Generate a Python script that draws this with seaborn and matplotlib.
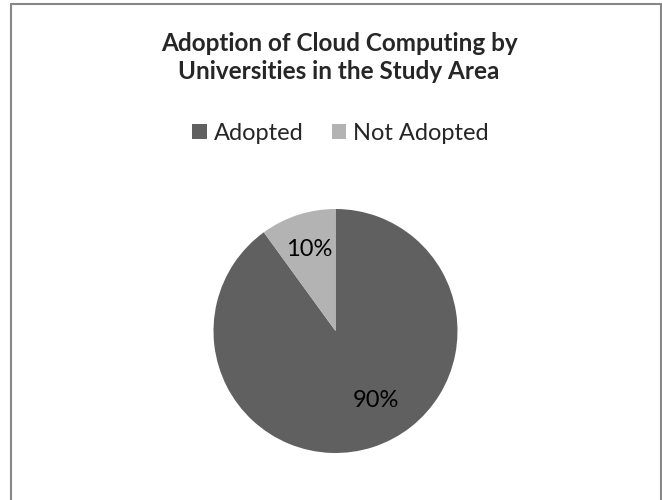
import matplotlib
matplotlib.use("Agg")
import matplotlib.pyplot as plt
import seaborn as sns
from matplotlib.lines import Line2D

# veriler
labels = ["Adopted", "Not Adopted"]
values = [90, 10]
colors = ["#606060", "#b3b3b3"]
title = "Adoption of Cloud Computing by\nUniversities in the Study Area"

sns.set_style("white")
plt.rcParams["font.family"] = ["Lato", "DejaVu Sans"]

fig = plt.figure(figsize=(6.62, 5.0), dpi=100)
ax = fig.add_axes([213.5 / 662, 47 / 500, 244 / 662, 244 / 500])

wedges, texts, autotexts = ax.pie(
    values, colors=colors, startangle=90, counterclock=False,
    autopct="%d%%", pctdistance=0.7,
    textprops={"fontsize": 17, "color": "black"},
    wedgeprops={"linewidth": 0},
)
# Excel etiket konumu gibi
autotexts[0].set_position((0.33, -0.57))
ax.set_xlim(-1, 1)
ax.set_ylim(-1, 1)
ax.set_aspect("equal")

fig.text(339 / 662, 1 - 57.5 / 500, title, ha="center", va="center",
         fontsize=17.5, fontweight="bold", linespacing=1.28)

fig.legend(wedges, labels, loc="center", bbox_to_anchor=(340.5 / 662, 1 - 133 / 500),
           ncol=2, frameon=False, fontsize=17, handlelength=0.62,
           handleheight=0.62, handletextpad=0.3, columnspacing=1.2)

# kenarlik
fig.add_artist(Line2D([10.5 / 662, 10.5 / 662], [0, 1 - 4 / 500], color="#888888", lw=1.5))
fig.add_artist(Line2D([660.5 / 662, 660.5 / 662], [0, 1 - 4 / 500], color="#888888", lw=1.5))
fig.add_artist(Line2D([10.5 / 662, 660.5 / 662], [1 - 4 / 500, 1 - 4 / 500], color="#888888", lw=1.5))

fig.savefig("out.png", dpi=100)
